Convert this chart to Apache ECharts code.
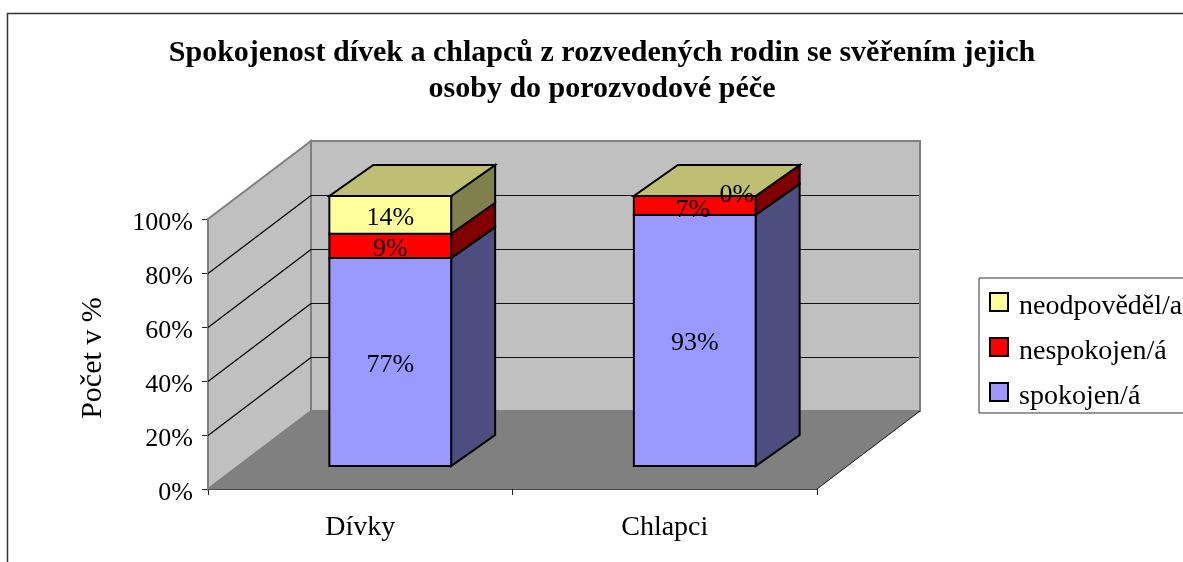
<!DOCTYPE html>
<html><head><meta charset="utf-8">
<style>html,body{margin:0;padding:0;background:#fff}#c{width:1183px;height:562px}</style>
<script src="https://cdn.jsdelivr.net/npm/echarts@6/dist/echarts.min.js"></script>
</head><body><div id="c"></div>
<script>
var categories = ['Dívky', 'Chlapci'];
var spokojen = [77, 93];
var nespokojen = [9, 7];
var neodpovedel = [14, 0];
var yTicks = [0, 20, 40, 60, 80, 100];
var seriesNames = ['spokojen/á', 'nespokojen/á', 'neodpověděl/a'];
var titleText = 'Spokojenost dívek a chlapců z rozvedených rodin se svěřením jejich\nosoby do porozvodové péče';
var yName = 'Počet v %';

var FONT = '"Liberation Serif","Times New Roman",serif';
var WALL = {dx: 103, dy: -78};
var BAR_FRONT = {dx: 30, dy: -23};
var BAR_DEPTH = {dx: 44, dy: -31};
var BAR_RATIO = 0.4;

function poly(points, fill, stroke, lw) {
  return {type: 'polygon', shape: {points: points},
    style: {fill: fill, stroke: stroke || null, lineWidth: lw || 0, lineJoin: 'miter'}};
}
function line(a, b, stroke, lw) {
  return {type: 'line', shape: {x1: a[0], y1: a[1], x2: b[0], y2: b[1]},
    style: {stroke: stroke, lineWidth: lw}};
}
function shift(p, o) { return [p[0] + o.dx, p[1] + o.dy]; }

function renderWalls(params, api) {
  var r = params.coordSys;
  var l = r.x, rt = r.x + r.width, t = r.y, b = r.y + r.height;
  var d = WALL;
  return {type: 'group', children: [
    poly([[l + d.dx, t + d.dy], [rt + d.dx, t + d.dy], [rt + d.dx, b + d.dy], [l + d.dx, b + d.dy]], '#C0C0C0', '#808080', 2),
    poly([[l, t], [l + d.dx, t + d.dy], [l + d.dx, b + d.dy], [l, b]], '#C0C0C0', '#808080', 2),
    poly([[l, b], [l + d.dx, b + d.dy], [rt + d.dx, b + d.dy], [rt, b]], '#808080'),
    line([rt, b], [rt + d.dx, b + d.dy], '#111', 1)
  ]};
}
function renderGrid(params, api) {
  var r = params.coordSys;
  var v = api.value(0);
  var y = Math.round(api.coord([0, v])[1]) + 0.5;
  var l = r.x, rt = r.x + r.width, d = WALL;
  return {type: 'group', children: [
    line([l, y], [l + d.dx, y + d.dy], '#000', 1.2),
    line([l + d.dx, y + d.dy], [rt + d.dx - 1, y + d.dy], '#111', 1)
  ]};
}
var COLORS = [
  {front: '#9999FF', side: '#4D4D80', top: '#7373BF'},
  {front: '#FF0000', side: '#800000', top: '#BF0000'},
  {front: '#FFFF99', side: '#80804D', top: '#BFBF73'}
];
function makeBarRender(idx, isTop) {
  return function (params, api) {
    var cat = api.value(0), s = api.value(1), e = api.value(2);
    var hw = api.size([1, 0])[0] * BAR_RATIO / 2;
    var c0 = api.coord([cat, s]), c1 = api.coord([cat, e]);
    var bl = shift([c0[0] - hw, c0[1]], BAR_FRONT), br = shift([c0[0] + hw, c0[1]], BAR_FRONT);
    var tl = shift([c1[0] - hw, c1[1]], BAR_FRONT), tr = shift([c1[0] + hw, c1[1]], BAR_FRONT);
    var col = COLORS[idx];
    var kids = [
      poly([br, tr, shift(tr, BAR_DEPTH), shift(br, BAR_DEPTH)], col.side, '#000', 2),
      poly([tl, tr, br, bl], col.front, '#000', 2)
    ];
    if (isTop) kids.push(poly([tl, tr, shift(tr, BAR_DEPTH), shift(tl, BAR_DEPTH)], col.top, '#000', 2));
    return {type: 'group', children: kids};
  };
}
function renderLabel(params, api) {
  var cat = api.value(0), s = api.value(1), e = api.value(2), val = api.value(3);
  var c = api.coord([cat, (s + e) / 2]);
  var x = c[0] + BAR_FRONT.dx, y = c[1] + BAR_FRONT.dy + 3;
  if (val === 0) { x += 42; y -= 4; }
  else if (val < 8) { x -= 2; y += 2; }
  return {type: 'text', z2: 100, style: {x: x, y: y, text: val + '%', fill: '#000',
    font: '26px ' + FONT, align: 'center', verticalAlign: 'middle'}};
}

var stacks = [spokojen, nespokojen, neodpovedel];
var base = categories.map(function () { return 0; });
var segData = stacks.map(function (vals) {
  return vals.map(function (v, i) {
    var row = [i, base[i], base[i] + v, v];
    base[i] += v;
    return row;
  });
});
var allLabels = [].concat(segData[0], segData[1], segData[2]);

var series = [
  {type: 'custom', silent: true, z: 1, renderItem: renderWalls, data: [[0]], encode: {x: -1, y: -1}, legendHoverLink: false, tooltip: {show: false}},
  {type: 'custom', silent: true, z: 1, renderItem: renderGrid, data: yTicks.slice(1, 5).map(function (v) { return [v]; }), encode: {y: 0, x: -1}}
];
seriesNames.forEach(function (n, i) {
  series.push({type: 'custom', name: n, z: 2 + i, silent: true, renderItem: makeBarRender(i, i === 2),
    itemStyle: {color: COLORS[i].front, borderColor: '#000', borderWidth: 2},
    data: segData[i], encode: {x: 0, y: [1, 2]}});
});
series.push({type: 'custom', z: 10, silent: true, renderItem: renderLabel, data: allLabels, encode: {x: 0, y: [1, 2]}});

var chart = echarts.init(document.getElementById('c'), null, {renderer: 'canvas'});
chart.setOption({
  animation: false,
  backgroundColor: '#fff',
  title: {text: titleText, left: 597, top: 30, textAlign: 'center',
    textStyle: {fontFamily: FONT, fontSize: 30, fontWeight: 'bold', color: '#000', lineHeight: 36}},
  grid: {left: 208, top: 219, width: 609, height: 270, containLabel: false},
  legend: {orient: 'vertical', left: 979, top: 278, itemWidth: 18, itemHeight: 18, itemGap: 7,
    padding: [5, 40, 2, 10], borderColor: '#333', borderWidth: 1, selectedMode: false,
    data: seriesNames.slice().reverse().map(function (n) { return {name: n, icon: 'rect'}; }),
    formatter: '{a|{name}}',
    textStyle: {rich: {a: {fontFamily: FONT, fontSize: 28, color: '#000', lineHeight: 28, padding: [10, 0, 0, 6]}}}},
  xAxis: {type: 'category', data: categories, boundaryGap: true,
    axisLine: {lineStyle: {color: '#111', width: 1.5}},
    axisTick: {show: true, length: 6, alignWithLabel: false, lineStyle: {color: '#222'}},
    axisLabel: {fontFamily: FONT, fontSize: 28, color: '#000', margin: 25},
    splitLine: {show: false}},
  yAxis: {type: 'value', min: 0, max: 100, interval: 20, name: yName, nameLocation: 'middle', nameGap: 100,
    nameRotate: 90, nameTextStyle: {fontFamily: FONT, fontSize: 30, color: '#000', padding: [0, 8, 0, 0]},
    axisLine: {show: true, lineStyle: {color: '#444', width: 1.5}},
    axisTick: {show: true, length: 6, lineStyle: {color: '#222'}},
    axisLabel: {margin: 15, formatter: '{a|{value}%}',
      rich: {a: {fontFamily: FONT, fontSize: 26, color: '#000', lineHeight: 26, padding: [8, 0, 0, 0]}}},
    splitLine: {show: false}},
  graphic: [{type: 'rect', silent: true, z: -1, shape: {x: 7.5, y: 13.5, width: 1400, height: 800},
    style: {fill: 'none', stroke: '#333', lineWidth: 1.5}}],
  series: series
});
</script></body></html>
